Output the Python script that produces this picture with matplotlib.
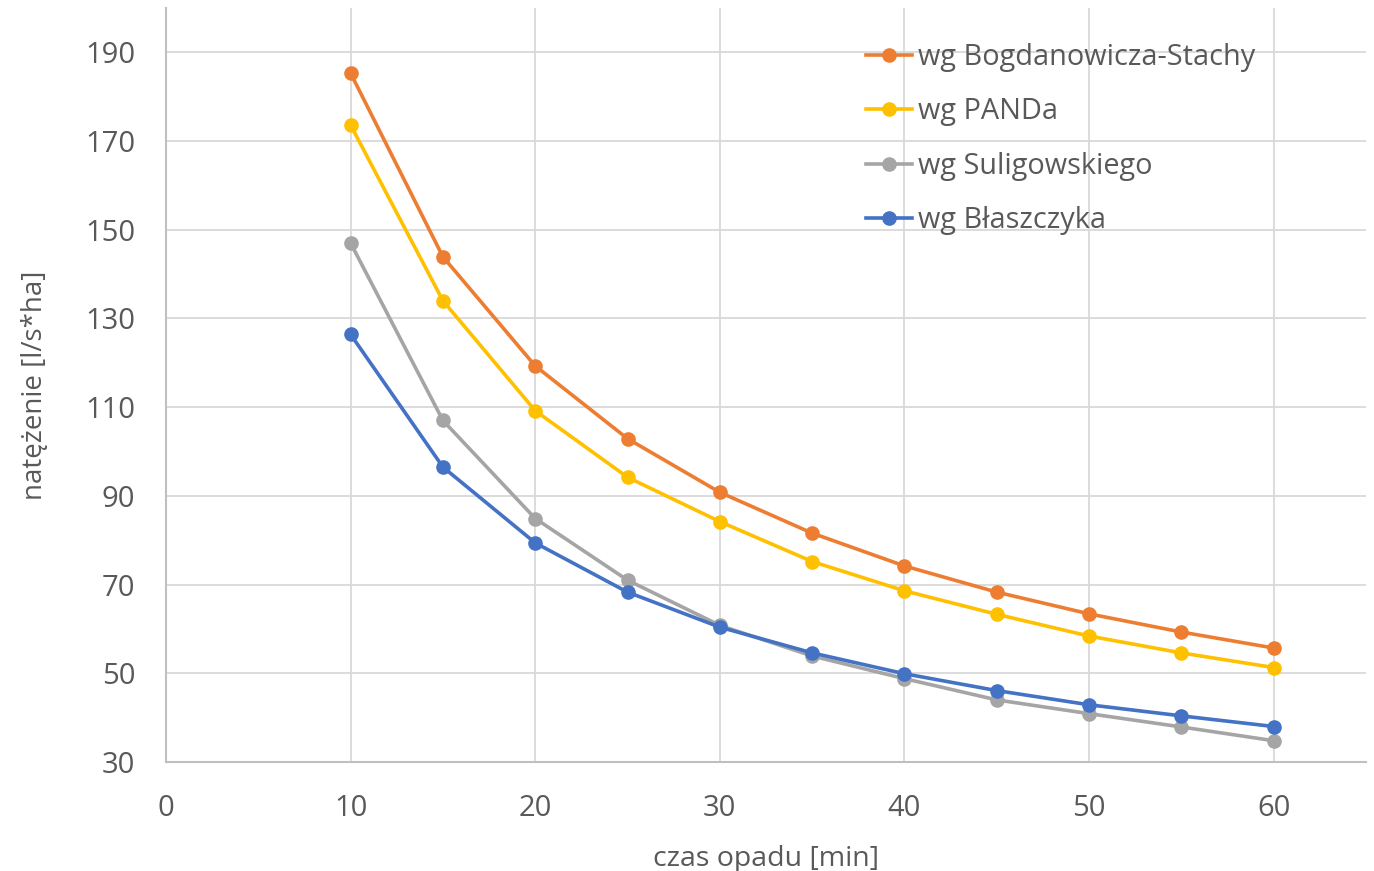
import matplotlib.pyplot as plt

# czas opadu [min]
czas = [10, 15, 20, 25, 30, 35, 40, 45, 50, 55, 60]

# natężenie deszczu wg różnych wzorów [l/s*ha]
bogdanowicz = [185.3, 143.9, 119.3, 102.9, 90.8, 81.6, 74.2, 68.3, 63.4, 59.3, 55.7]
panda = [173.6, 134.0, 109.2, 94.2, 84.2, 75.2, 68.6, 63.3, 58.4, 54.6, 51.3]
suligowski = [147.0, 107.0, 84.9, 71.0, 60.8, 53.9, 48.8, 44.0, 40.9, 37.9, 34.8]
blaszczyk = [126.4, 96.5, 79.4, 68.3, 60.4, 54.6, 49.9, 46.1, 42.9, 40.4, 38.0]

etykiety = ["wg Bogdanowicza-Stachy", "wg PANDa", "wg Suligowskiego", "wg Błaszczyka"]
kolory = ["#ED7D31", "#FFC000", "#A5A5A5", "#4472C4"]

x_ticks = [0, 10, 20, 30, 40, 50, 60]
y_ticks = [30, 50, 70, 90, 110, 130, 150, 170, 190]

plt.rcParams['font.family'] = ['Open Sans', 'DejaVu Sans']
tekst = '#595959'

fig = plt.figure(figsize = (13.74, 8.71), dpi = 100)
ax = fig.add_axes([166 / 1374, 109 / 871, 1200 / 1374, 754 / 871])

for seria, nazwa, kolor in zip([bogdanowicz, panda, suligowski, blaszczyk], etykiety, kolory):
    ax.plot(czas, seria, color = kolor, linewidth = 2.6, marker = 'o', markersize = 9.5, label = nazwa)

ax.set_xlim(0, 65)
ax.set_ylim(30, 200)
ax.set_xticks(x_ticks)
ax.set_yticks(y_ticks)
ax.tick_params(length = 0, labelsize = 21, colors = tekst)
ax.tick_params(axis = 'y', pad = 22)
ax.tick_params(axis = 'x', pad = 23)
ax.grid(True, color = '#D9D9D9', linewidth = 1.3)
ax.set_axisbelow(True)

for s in ['top', 'right']:
    ax.spines[s].set_visible(False)
for s in ['left', 'bottom']:
    ax.spines[s].set_color('#BFBFBF')
    ax.spines[s].set_linewidth(1.5)

ax.set_xlabel("czas opadu [min]", fontsize = 20.5, color = tekst, labelpad = 16)
ax.set_ylabel("natężenie [l/s*ha]", fontsize = 20, color = tekst, labelpad = 26)

leg = ax.legend(loc = 'upper left', bbox_to_anchor = (866 / 1374, 1 - 43 / 871),
                bbox_transform = fig.transFigure, frameon = False, fontsize = 20.8,
                handlelength = 1.6, handletextpad = 0.2, labelspacing = 0.88,
                borderpad = 0, borderaxespad = 0)
for t in leg.get_texts():
    t.set_color(tekst)

fig.savefig("out.png", dpi = 100)
